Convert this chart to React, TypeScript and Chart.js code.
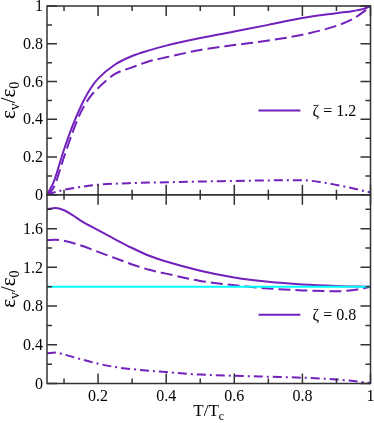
import React, { useEffect, useRef } from 'react';
import { Chart, registerables } from 'chart.js';

Chart.register(...registerables);

// ---------- data ----------
// Top panel (zeta = 1.2)
const topSolidX = [0.05, 0.07, 0.1, 0.125, 0.15, 0.175, 0.2, 0.25, 0.3, 0.35, 0.4, 0.5, 0.6, 0.7, 0.8, 0.9, 0.95, 0.98, 1.0];
const topSolidY = [0, 0.07, 0.24, 0.365, 0.47, 0.555, 0.615, 0.69, 0.735, 0.765, 0.79, 0.83, 0.865, 0.9, 0.936, 0.962, 0.974, 0.985, 1.0];
const topDashX = [0.05, 0.07, 0.1, 0.125, 0.15, 0.175, 0.2, 0.25, 0.3, 0.35, 0.4, 0.5, 0.6, 0.7, 0.8, 0.9, 0.95, 0.98, 1.0];
const topDashY = [0, 0.04, 0.2, 0.33, 0.44, 0.515, 0.565, 0.64, 0.675, 0.707, 0.728, 0.767, 0.793, 0.817, 0.848, 0.895, 0.933, 0.97, 1.0];
const topDotX = [0.05, 0.07, 0.1, 0.15, 0.2, 0.3, 0.4, 0.5, 0.6, 0.7, 0.8, 0.85, 0.9, 0.95, 1.0];
const topDotY = [0, 0.012, 0.026, 0.042, 0.053, 0.062, 0.066, 0.07, 0.073, 0.076, 0.077, 0.068, 0.052, 0.033, 0.012];

// Bottom panel (zeta = 0.8)
const botSolidX = [0.05, 0.075, 0.1, 0.125, 0.15, 0.2, 0.25, 0.3, 0.35, 0.4, 0.5, 0.6, 0.7, 0.8, 0.9, 1.0];
const botSolidY = [1.8, 1.812, 1.79, 1.74, 1.68, 1.585, 1.49, 1.4, 1.32, 1.26, 1.165, 1.095, 1.05, 1.023, 1.008, 1.0];
const botDashX = [0.05, 0.075, 0.1, 0.15, 0.2, 0.25, 0.3, 0.35, 0.4, 0.5, 0.6, 0.7, 0.8, 0.9, 0.95, 1.0];
const botDashY = [1.48, 1.485, 1.475, 1.425, 1.36, 1.295, 1.23, 1.175, 1.135, 1.06, 1.015, 0.982, 0.962, 0.953, 0.965, 1.0];
const botDotX = [0.05, 0.075, 0.1, 0.15, 0.2, 0.25, 0.3, 0.4, 0.5, 0.6, 0.7, 0.8, 0.9, 0.95, 1.0];
const botDotY = [0.31, 0.32, 0.3, 0.25, 0.205, 0.17, 0.148, 0.118, 0.092, 0.08, 0.07, 0.06, 0.042, 0.025, 0.005];
const botRefX = [0.05, 1.0];
const botRefY = [1, 1];

// ---------- axes / labels ----------
const xRange = [0.05, 1.0];
const topYRange = [0, 1];
const botYRange = [0, 1.95];
const xMajorTicks = [0.2, 0.4, 0.6, 0.8, 1.0];
const xTickLabels = ['0.2', '0.4', '0.6', '0.8', '1'];
const xMinorTicks = [0.1, 0.3, 0.5, 0.7, 0.9];
const topYMajorTicks = [0, 0.2, 0.4, 0.6, 0.8, 1.0];
const topYTickLabels = ['0', '0.2', '0.4', '0.6', '0.8', '1'];
const topYMinorTicks = [0.1, 0.3, 0.5, 0.7, 0.9];
const botYMajorTicks = [0, 0.4, 0.8, 1.2, 1.6];
const botYTickLabels = ['0', '0.4', '0.8', '1.2', '1.6'];
const botYMinorTicks = [0.2, 0.6, 1.0, 1.4, 1.8];
const legendLabels = ['ζ = 1.2', 'ζ = 0.8'];
const legendLineX = [0.671, 0.794];
const legendTextX = 0.83;
const legendY = [0.446, 0.71];

const PURPLE = '#7221bc';
const CYAN = '#00ffff';
const FRAME = '#333333';
const FONT = '"Liberation Serif", "Times New Roman", Times, serif';

const pts = (xs: number[], ys: number[]) => xs.map((x, i) => ({ x, y: ys[i] }));

const drawSubText = (
  ctx: CanvasRenderingContext2D,
  parts: { t: string; sub?: boolean }[],
  size: number,
  subSize: number,
  subShift: number,
  cx: number,
  cy: number,
  rotate: boolean
) => {
  ctx.save();
  ctx.translate(cx, cy);
  if (rotate) ctx.rotate(-Math.PI / 2);
  let total = 0;
  const widths = parts.map((p) => {
    ctx.font = `${p.sub ? subSize : size}px ${FONT}`;
    const w = ctx.measureText(p.t).width;
    total += w;
    return w;
  });
  let x = -total / 2;
  ctx.textAlign = 'left';
  ctx.textBaseline = 'alphabetic';
  ctx.fillStyle = '#000';
  parts.forEach((p, i) => {
    ctx.font = `${p.sub ? subSize : size}px ${FONT}`;
    ctx.fillText(p.t, x, p.sub ? subShift : 0);
    x += widths[i];
  });
  ctx.restore();
};

const framePlugin = {
  id: 'graceFrame',
  afterDatasetsDraw(chart: any) {
    const ctx: CanvasRenderingContext2D = chart.ctx;
    const xs = chart.scales.x;
    const L = xs.getPixelForValue(xRange[0]);
    const R = xs.getPixelForValue(xRange[1]);
    const panels = [
      { s: chart.scales.yTop, r: topYRange, maj: topYMajorTicks, min: topYMinorTicks, lab: topYTickLabels },
      { s: chart.scales.yBot, r: botYRange, maj: botYMajorTicks, min: botYMinorTicks, lab: botYTickLabels },
    ];
    ctx.save();
    panels.forEach((p, pi) => {
      const T = p.s.getPixelForValue(p.r[1]);
      const B = p.s.getPixelForValue(p.r[0]);
      ctx.strokeStyle = FRAME;
      ctx.lineWidth = 1.5;
      ctx.strokeRect(L, T, R - L, B - T);
      ctx.beginPath();
      const tick = (v: number, len: number) => {
        const px = xs.getPixelForValue(v);
        ctx.moveTo(px, B);
        ctx.lineTo(px, B - len);
        ctx.moveTo(px, T);
        ctx.lineTo(px, T + len);
      };
      xMajorTicks.forEach((v) => tick(v, 10));
      xMinorTicks.forEach((v) => tick(v, 5));
      const ytick = (v: number, len: number) => {
        const py = p.s.getPixelForValue(v);
        ctx.moveTo(L, py);
        ctx.lineTo(L + len, py);
        ctx.moveTo(R, py);
        ctx.lineTo(R - len, py);
      };
      p.maj.forEach((v) => ytick(v, 10));
      p.min.forEach((v) => ytick(v, 5));
      ctx.stroke();

      // y tick labels
      ctx.fillStyle = '#000';
      ctx.font = `16px ${FONT}`;
      ctx.textAlign = 'right';
      ctx.textBaseline = 'middle';
      p.maj.forEach((v, i) => {
        ctx.fillText(p.lab[i], L - 4, p.s.getPixelForValue(v) + 1);
      });

      // y title
      drawSubText(
        ctx,
        [{ t: 'ε' }, { t: 'v', sub: true }, { t: '/ε' }, { t: '0', sub: true }],
        21,
        14,
        4,
        15,
        (T + B) / 2,
        true
      );

      // legend
      const ly = p.s.getPixelForValue(legendY[pi]);
      ctx.strokeStyle = PURPLE;
      ctx.lineWidth = 2;
      ctx.beginPath();
      ctx.moveTo(xs.getPixelForValue(legendLineX[0]), ly);
      ctx.lineTo(xs.getPixelForValue(legendLineX[1]), ly);
      ctx.stroke();
      ctx.fillStyle = '#000';
      ctx.font = `16px ${FONT}`;
      ctx.textAlign = 'left';
      ctx.textBaseline = 'middle';
      ctx.fillText(legendLabels[pi], xs.getPixelForValue(legendTextX), ly + 1);

      if (pi === 1) {
        ctx.font = `16px ${FONT}`;
        ctx.textAlign = 'center';
        ctx.textBaseline = 'top';
        xMajorTicks.forEach((v, i) => {
          ctx.fillText(xTickLabels[i], xs.getPixelForValue(v), B + 5);
        });
        drawSubText(
          ctx,
          [{ t: 'T/T' }, { t: 'c', sub: true }],
          17,
          12,
          4,
          (L + R) / 2,
          B + 32,
          false
        );
      }
    });
    ctx.restore();
  },
};

export default function App() {
  const ref = useRef<HTMLCanvasElement>(null);
  useEffect(() => {
    document.body.style.margin = '0';
    if (!ref.current) return;
    const line = (xs: number[], ys: number[], axis: string, color: string, dash: number[]) => ({
      data: pts(xs, ys),
      yAxisID: axis,
      borderColor: color,
      borderWidth: 2,
      borderDash: dash,
      pointRadius: 0,
      fill: false,
      cubicInterpolationMode: 'monotone' as const,
    });
    const chart = new Chart(ref.current, {
      type: 'line',
      data: {
        datasets: [
          line(topSolidX, topSolidY, 'yTop', PURPLE, []),
          line(topDashX, topDashY, 'yTop', PURPLE, [12, 5]),
          line(topDotX, topDotY, 'yTop', PURPLE, [9, 4, 2, 4]),
          line(botRefX, botRefY, 'yBot', CYAN, []),
          line(botSolidX, botSolidY, 'yBot', PURPLE, []),
          line(botDashX, botDashY, 'yBot', PURPLE, [12, 5]),
          line(botDotX, botDotY, 'yBot', PURPLE, [9, 4, 2, 4]),
        ],
      },
      options: {
        animation: false,
        responsive: true,
        maintainAspectRatio: false,
        layout: { padding: { left: 47, right: 3.5, top: 6, bottom: 39.5 } },
        plugins: { legend: { display: false }, tooltip: { enabled: false } },
        scales: {
          x: { type: 'linear', min: xRange[0], max: xRange[1], display: false },
          yBot: { type: 'linear', position: 'left', stack: 'panels', stackWeight: 1, min: botYRange[0], max: botYRange[1], display: false },
          yTop: { type: 'linear', position: 'left', stack: 'panels', stackWeight: 1, min: topYRange[0], max: topYRange[1], display: false },
        },
      },
      plugins: [framePlugin],
    });
    return () => chart.destroy();
  }, []);
  return (
    <div style={{ width: 374, height: 423, position: 'relative' }}>
      <canvas ref={ref} />
    </div>
  );
}
